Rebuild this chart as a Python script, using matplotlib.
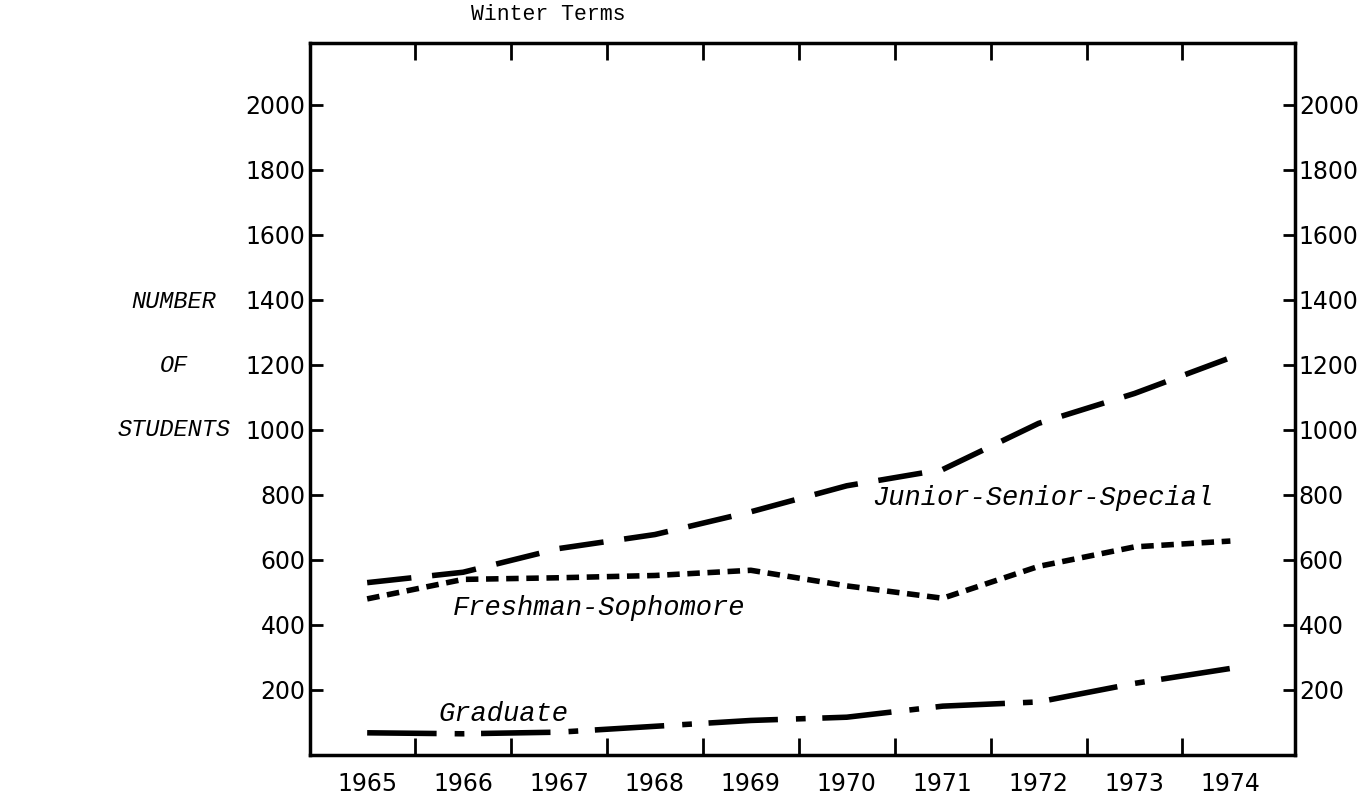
import matplotlib
matplotlib.use("Agg")
import matplotlib.pyplot as plt

years = ["1965", "1966", "1967", "1968", "1969", "1970", "1971", "1972", "1973", "1974"]
junior_senior = [530, 562, 635, 678, 748, 828, 878, 1020, 1112, 1222]
fresh_soph = [480, 540, 545, 552, 568, 520, 482, 580, 640, 658]
graduate = [68, 65, 70, 88, 106, 116, 150, 163, 220, 266]
y_ticks = [200, 400, 600, 800, 1000, 1200, 1400, 1600, 1800, 2000]

plt.rcParams['lines.scale_dashes'] = False
mono = "Liberation Mono"

fig = plt.figure(figsize=(13.7, 7.98), dpi=100)
ax = fig.add_axes([0.226, 0.054, 0.719, 0.892])

x = list(range(len(years)))
ax.plot(x, junior_senior, color='black', linewidth=4, dashes=(32, 15))
ax.plot(x, fresh_soph, color='black', linewidth=4, dashes=(9, 5.5))
ax.plot(x, graduate, color='black', linewidth=4, dashes=(50, 13, 7, 12))

ax.set_xlim(-0.6, 9.67)
ax.set_ylim(0, 2190)

# year boundaries carry the tick marks, year centres carry the labels
ax.set_xticks([i + 0.5 for i in range(len(years) - 1)])
ax.set_xticklabels([])
ax.set_xticks(x, minor=True)
ax.set_xticklabels(years, minor=True, fontsize=17)
ax.tick_params(axis='x', which='major', direction='in', length=12, width=2,
               top=True, bottom=True)
ax.tick_params(axis='x', which='minor', length=0, pad=12)

ax.set_yticks(y_ticks)
ax.set_yticklabels([str(v) for v in y_ticks], fontsize=17)
ax.tick_params(axis='y', direction='in', length=9, width=2, left=True, right=True,
               labelleft=True, labelright=True, pad=3)

for s in ax.spines.values():
    s.set_linewidth(2.5)

ax.text(2.42, 451, "Freshman-Sophomore", family=mono, style='italic', fontsize=19.5,
        ha='center', va='center')
ax.text(1.42, 127, "Graduate", family=mono, style='italic', fontsize=19.5,
        ha='center', va='center')
ax.text(7.04, 791, "Junior-Senior-Special", family=mono, style='italic', fontsize=19.5,
        ha='center', va='center')

fig.text(548 / 1370, 1 - 14 / 798, "Winter Terms", family=mono, fontsize=15.5,
         ha='center', va='center')
fig.text(174 / 1370, 1 - 301 / 798, "NUMBER", family=mono, style='italic', fontsize=17,
         ha='center', va='center')
fig.text(174 / 1370, 1 - 365 / 798, "OF", family=mono, style='italic', fontsize=17,
         ha='center', va='center')
fig.text(174 / 1370, 1 - 430 / 798, "STUDENTS", family=mono, style='italic', fontsize=17,
         ha='center', va='center')

fig.savefig("out.png", dpi=100)
